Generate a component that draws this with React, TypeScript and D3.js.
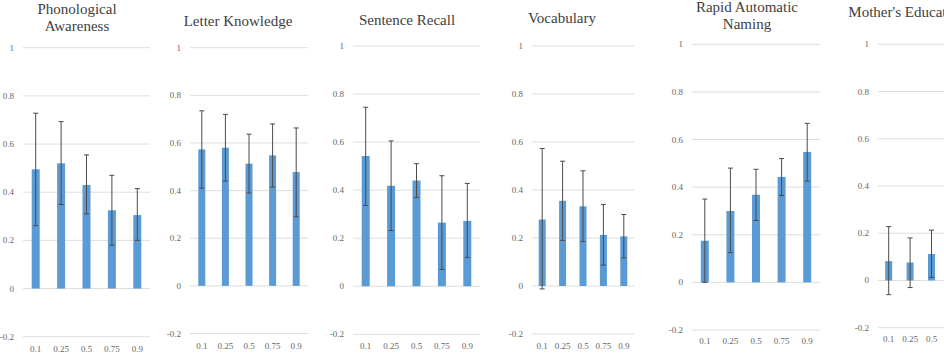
import React from "react";
import * as d3 from "d3";

const quantiles = ["0.1", "0.25", "0.5", "0.75", "0.9"];
const yTicks = [-0.2, 0, 0.2, 0.4, 0.6, 0.8, 1];

const titles = [
  ["Phonological", "Awareness"],
  ["Letter Knowledge"],
  ["Sentence Recall"],
  ["Vocabulary"],
  ["Rapid Automatic", "Naming"],
  ["Mother's Education"],
];

// estimates and error bar ends, per panel
const phonoMean = [0.495, 0.52, 0.43, 0.325, 0.305];
const phonoHigh = [0.728, 0.693, 0.555, 0.47, 0.415];
const phonoLow = [0.261, 0.349, 0.31, 0.18, 0.2];

const letterMean = [0.573, 0.58, 0.513, 0.548, 0.478];
const letterHigh = [0.735, 0.72, 0.637, 0.68, 0.663];
const letterLow = [0.41, 0.44, 0.39, 0.415, 0.29];

const sentenceMean = [0.542, 0.418, 0.44, 0.265, 0.272];
const sentenceHigh = [0.745, 0.605, 0.51, 0.46, 0.428];
const sentenceLow = [0.336, 0.232, 0.37, 0.07, 0.12];

const vocabMean = [0.277, 0.355, 0.332, 0.213, 0.207];
const vocabHigh = [0.573, 0.52, 0.48, 0.34, 0.298];
const vocabLow = [-0.012, 0.19, 0.185, 0.087, 0.117];

const ranMean = [0.175, 0.3, 0.368, 0.443, 0.548];
const ranHigh = [0.35, 0.48, 0.475, 0.52, 0.668];
const ranLow = [0.0, 0.125, 0.26, 0.365, 0.425];

const motherMean = [0.082, 0.076, 0.112];
const motherHigh = [0.228, 0.18, 0.213];
const motherLow = [-0.06, -0.03, 0.013];

const means = [phonoMean, letterMean, sentenceMean, vocabMean, ranMean, motherMean];
const highs = [phonoHigh, letterHigh, sentenceHigh, vocabHigh, ranHigh, motherHigh];
const lows = [phonoLow, letterLow, sentenceLow, vocabLow, ranLow, motherLow];

// plot area of each small panel in the picture
const layout = [
  { x0: 23, x1: 150, yTop: 47.7, yBot: 336.7, tx: 77, ty: 14, lab: 352, bw: 8 },
  { x0: 190, x1: 308, yTop: 47.7, yBot: 333.5, tx: 238, ty: 25.5, lab: 349, bw: 7 },
  { x0: 353, x1: 480, yTop: 46, yBot: 334.3, tx: 407, ty: 25, lab: 349, bw: 8 },
  { x0: 532, x1: 634, yTop: 46, yBot: 334, tx: 562, ty: 23, lab: 349, bw: 7 },
  { x0: 692, x1: 820, yTop: 44.3, yBot: 330, tx: 747, ty: 12, lab: 344, bw: 8 },
  { x0: 878, x1: 985, yTop: 44.3, yBot: 327.7, tx: 907, ty: 17, lab: 342, bw: 7 },
];

const W = 944;
const H = 364;
const font = "Liberation Serif, serif";

const Panel = ({ i }: { i: number }) => {
  const L = layout[i];
  const x = d3.scaleBand().domain(quantiles).range([L.x0, L.x1]);
  const y = d3.scaleLinear().domain([-0.2, 1]).range([L.yBot, L.yTop]);
  const fmt = (v: number) => (Math.abs(v) < 1e-9 ? "0" : String(+v.toFixed(1)));
  return (
    <g>
      {titles[i].map((t, k) => (
        <text key={t} x={L.tx} y={L.ty + k * 17} textAnchor="middle" fontSize={15} fill="#404040" style={{ fontFamily: font }}>
          {t}
        </text>
      ))}
      {yTicks.map((v) => (
        <g key={v}>
          <line x1={L.x0} x2={L.x1} y1={y(v)} y2={y(v)} stroke="#dedede" strokeWidth={1} />
          <text x={L.x0 - 9} y={y(v) + 3} textAnchor="end" fontSize={9} fill="#666" style={{ fontFamily: font }}>
            {fmt(v)}
          </text>
        </g>
      ))}
      {means[i].map((m, k) => {
        const cx = x(quantiles[k])! + x.bandwidth() / 2;
        return (
          <g key={k}>
            <rect x={cx - L.bw / 2} y={y(Math.max(m, 0))} width={L.bw} height={Math.abs(y(m) - y(0))} fill="#5b9bd5" />
            <line x1={cx} x2={cx} y1={y(highs[i][k])} y2={y(lows[i][k])} stroke="#4a4a4a" strokeWidth={1} />
            <line x1={cx - 2.5} x2={cx + 2.5} y1={y(highs[i][k])} y2={y(highs[i][k])} stroke="#4a4a4a" strokeWidth={1} />
            <line x1={cx - 2.5} x2={cx + 2.5} y1={y(lows[i][k])} y2={y(lows[i][k])} stroke="#4a4a4a" strokeWidth={1} />
          </g>
        );
      })}
      {quantiles.map((q) => (
        <text key={q} x={x(q)! + x.bandwidth() / 2} y={L.lab} textAnchor="middle" fontSize={9} fill="#666" style={{ fontFamily: font }}>
          {q}
        </text>
      ))}
    </g>
  );
};

export default function App() {
  return (
    <svg width={W} height={H} style={{ position: "absolute", left: 0, top: 0, background: "#fff" }}>
      {titles.map((_, i) => (
        <Panel key={i} i={i} />
      ))}
    </svg>
  );
}
